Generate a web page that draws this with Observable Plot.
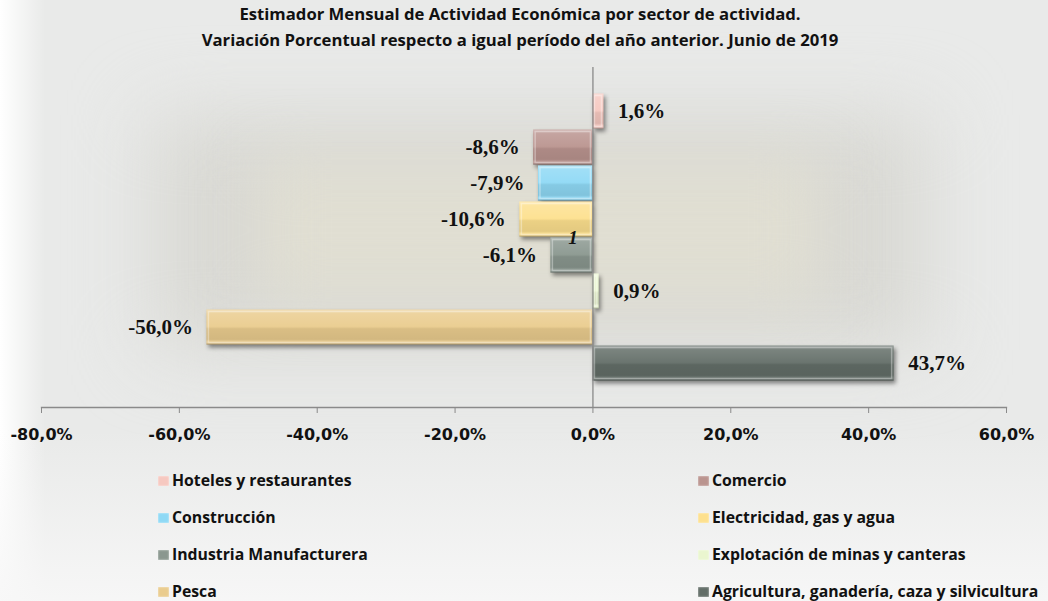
<!DOCTYPE html>
<html>
<head>
<meta charset="utf-8">
<script src="https://cdn.jsdelivr.net/npm/d3@7"></script>
<script src="https://cdn.jsdelivr.net/npm/@observablehq/plot@0.6"></script>
<style>
  html, body { margin: 0; padding: 0; }
  body {
    width: 1048px; height: 601px; overflow: hidden; position: relative;
    background: #e9eae9;
  }
  #bghalo { position:absolute; left:150px; top:115px; width:780px; height:235px;
    background:#d9d9d4; filter: blur(38px); }
  #bgcore { position:absolute; left:260px; top:160px; width:560px; height:140px;
    background:#e0ded2; filter: blur(30px); }
  #bgbottom { position:absolute; left:0; top:430px; width:1048px; height:171px;
    background: linear-gradient(to bottom, rgba(240,240,240,0) 0%, rgba(247,247,247,0.95) 100%); }
  #bgleft { position:absolute; left:0; top:0; width:45px; height:601px;
    background: linear-gradient(to right, #ffffff 0%, rgba(255,255,255,0) 100%); }
  #title { position:absolute; left:0; top:1px; width:1040px; text-align:center;
    font-family: "Open Sans", Lato, sans-serif; font-weight:700; font-size:16.7px; line-height:26px; color:#111; }
  #chart { position:absolute; left:0; top:0; }
  .leg { position:absolute; height:22px; line-height:22px; white-space:pre;
    font-family: "Open Sans", Lato, sans-serif; font-weight:700; font-size:15.8px; color:#111; }
  .sw { display:inline-block; width:11px; height:10px; vertical-align:0px; margin-right:3px;
    box-shadow: inset 0 0 2px rgba(255,255,255,0.8); }
</style>
</head>
<body>
<div id="bghalo"></div>
<div id="bgcore"></div>
<div id="bgleft"></div>
<div id="bgbottom"></div>
<div id="title">Estimador Mensual de Actividad Económica por sector de actividad.<br>Variación Porcentual respecto a igual período del año anterior. Junio de 2019</div>
<div id="chart"></div>
<div id="legend"></div>
<script>
const sectors = [
  "Hoteles y restaurantes",
  "Comercio",
  "Construcción",
  "Electricidad, gas y agua",
  "Industria Manufacturera",
  "Explotación de minas y canteras",
  "Pesca",
  "Agricultura, ganadería, caza y silvicultura"
];
const values = [1.6, -8.6, -7.9, -10.6, -6.1, 0.9, -56.0, 43.7];
const colors = ["#f6c8c0", "#ba948f", "#8fd9f5", "#fde08e", "#8a978f", "#eaf6cf", "#eacc8e", "#636e68"];
const xTicks = [-80, -60, -40, -20, 0, 20, 40, 60];
const categories = ["1"];

const data = sectors.map((s, i) => ({sector: s, value: values[i]}));
const fmt = d => d.toFixed(1).replace(".", ",") + "%";

const chart = Plot.plot({
  width: 1048,
  height: 460,
  marginLeft: 41,
  marginRight: 42,
  marginTop: 67,
  marginBottom: 53,
  style: {background: "transparent", overflow: "visible"},
  x: {domain: [-80, 60], label: null},
  y: {domain: sectors, range: [93, 381], padding: 0, axis: null},
  color: {domain: sectors, range: colors},
  marks: [
    Plot.barX(data, {x: "value", y: "sector", fill: "sector", insetTop: 0.5, insetBottom: 0.5}),
    Plot.barX(data, {x: "value", y: "sector", fill: "url(#shine)", insetTop: 0.5, insetBottom: 0.5}),
    Plot.barX(data, {x: "value", y: "sector", fill: "none", stroke: "white", strokeOpacity: 0.35, strokeWidth: 1.5, insetTop: 2.5, insetBottom: 2.5, insetLeft: 2, insetRight: 2}),
    Plot.ruleX([0], {stroke: "#8a8a8a", strokeWidth: 1.3}),
    Plot.frame({anchor: "bottom", stroke: "#8a8a8a", strokeWidth: 1.3}),
    Plot.axisX({ticks: xTicks, tickFormat: fmt, tickSize: 6, tickPadding: 15, stroke: "#8a8a8a", label: null,
      fontSize: 16, fontFamily: "DejaVu Sans", fontWeight: "bold", fill: "#111"}),
    Plot.text(data.filter(d => d.value >= 0), {x: "value", y: "sector", text: d => fmt(d.value), textAnchor: "start", dx: 14,
      fontSize: 21, fontFamily: "Liberation Serif", fontWeight: "bold", fill: "#111"}),
    Plot.text(data.filter(d => d.value < 0), {x: "value", y: "sector", text: d => fmt(d.value), textAnchor: "end", dx: -14,
      fontSize: 21, fontFamily: "Liberation Serif", fontWeight: "bold", fill: "#111"}),
    Plot.text(categories, {x: () => 0, text: d => d, dx: -20, fontSize: 19, fontFamily: "Liberation Serif", fontWeight: "bold", fontStyle: "italic", fill: "#111"})
  ]
});

d3.select(chart).append("defs").html(`
  <linearGradient id="shine" x1="0" y1="0" x2="0" y2="1">
    <stop offset="0" stop-color="#fff" stop-opacity="0.35"/>
    <stop offset="0.12" stop-color="#fff" stop-opacity="0.15"/>
    <stop offset="0.48" stop-color="#fff" stop-opacity="0.05"/>
    <stop offset="0.55" stop-color="#000" stop-opacity="0.07"/>
    <stop offset="0.85" stop-color="#000" stop-opacity="0.1"/>
    <stop offset="0.93" stop-color="#fff" stop-opacity="0.1"/>
    <stop offset="1" stop-color="#000" stop-opacity="0.3"/>
  </linearGradient>`);
const barGroups = chart.querySelectorAll('g[aria-label="bar"]');
if (barGroups.length) barGroups[0].style.filter = "drop-shadow(2px 3px 2px rgba(0,0,0,0.45))";
document.getElementById("chart").appendChild(chart);

// legend: two columns, row-major order
const legend = document.getElementById("legend");
const colLeft = [158, 698];
const rowTop = [469, 506, 543, 580];
sectors.forEach((s, i) => {
  const div = document.createElement("div");
  div.className = "leg";
  div.style.left = colLeft[i % 2] + "px";
  div.style.top = rowTop[Math.floor(i / 2)] + "px";
  const sw = document.createElement("span");
  sw.className = "sw";
  sw.style.background = colors[i];
  div.appendChild(sw);
  div.appendChild(document.createTextNode(s));
  legend.appendChild(div);
});
</script>
</body>
</html>
